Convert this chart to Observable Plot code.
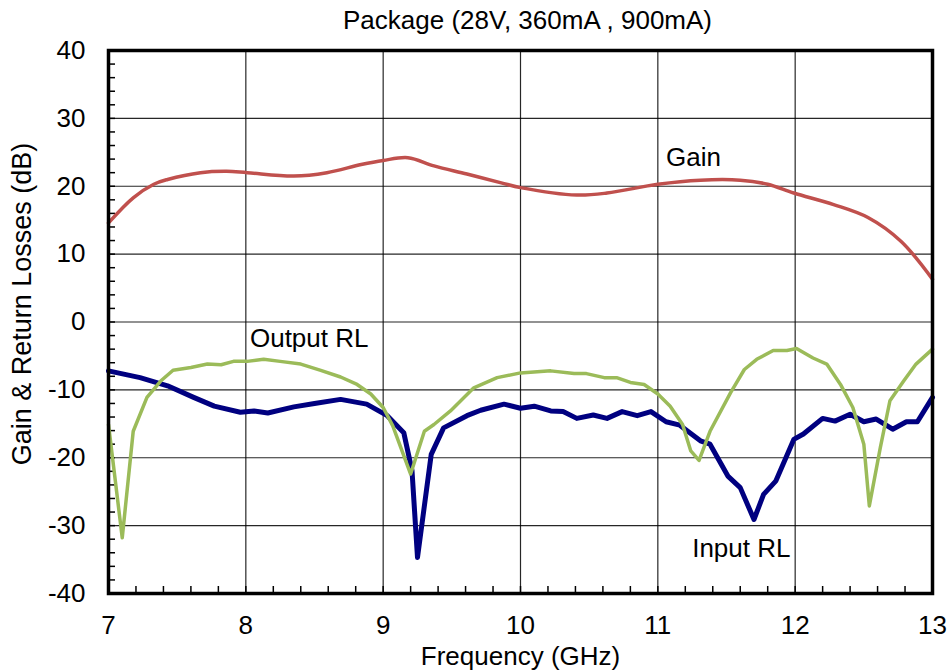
<!DOCTYPE html>
<html><head><meta charset="utf-8">
<script src="https://cdn.jsdelivr.net/npm/d3@7"></script>
<script src="https://cdn.jsdelivr.net/npm/@observablehq/plot@0.6"></script>
<style>body{margin:0;background:#fff}</style>
</head><body><div id="chart"></div>
<script>
const titleText = "Package (28V, 360mA , 900mA)";
const xLabel = "Frequency (GHz)";
const yLabel = "Gain & Return Losses (dB)";

const xTicks = [7, 8, 9, 10, 11, 12, 13];
const yTicks = [-40, -30, -20, -10, 0, 10, 20, 30, 40];
const xMinor = d3.range(7, 13.001, 0.2);
const yMinor = d3.range(-40, 40.001, 2);

const gainFreq = [7.0,7.18,7.33,7.43,7.67,7.86,8.01,8.35,8.59,8.84,9.0,9.18,9.37,9.61,9.86,10.0,10.41,10.63,11.0,11.31,11.6,11.8,11.99,12.28,12.53,12.77,13.0];
const gainDb   = [14.6,18.3,20.3,21.0,22.0,22.2,22.0,21.5,22.0,23.2,23.8,24.2,23.0,21.8,20.5,19.8,18.7,19.0,20.3,20.9,20.9,20.3,19.0,17.3,15.4,11.9,6.3];

const inFreq = [7.0,7.23,7.43,7.62,7.77,7.96,8.06,8.16,8.35,8.5,8.69,8.88,9.03,9.15,9.21,9.25,9.35,9.44,9.61,9.71,9.88,10.0,10.1,10.22,10.31,10.41,10.53,10.63,10.74,10.85,10.95,11.06,11.16,11.31,11.38,11.51,11.6,11.7,11.77,11.86,11.99,12.06,12.2,12.29,12.4,12.5,12.59,12.71,12.81,12.89,13.0];
const inDb   = [-7.2,-8.2,-9.4,-11.1,-12.4,-13.3,-13.1,-13.4,-12.5,-12.0,-11.4,-12.1,-13.8,-16.3,-21.9,-34.7,-19.5,-15.6,-13.8,-13.0,-12.1,-12.7,-12.4,-13.1,-13.2,-14.2,-13.7,-14.2,-13.2,-13.8,-13.2,-14.7,-15.2,-17.5,-18.0,-22.7,-24.4,-29.1,-25.4,-23.4,-17.3,-16.5,-14.2,-14.6,-13.6,-14.7,-14.3,-15.8,-14.7,-14.7,-11.1];

const outFreq = [7.0,7.1,7.18,7.28,7.38,7.47,7.6,7.72,7.82,7.91,8.01,8.13,8.25,8.4,8.54,8.69,8.81,8.91,9.0,9.07,9.2,9.3,9.37,9.49,9.66,9.83,10.0,10.22,10.39,10.48,10.61,10.7,10.8,10.9,11.0,11.09,11.18,11.24,11.3,11.38,11.53,11.63,11.72,11.84,11.94,12.01,12.13,12.23,12.33,12.42,12.5,12.54,12.62,12.69,12.79,12.88,13.0];
const outDb   = [-15.1,-31.8,-16.1,-11.1,-8.7,-7.1,-6.7,-6.2,-6.3,-5.8,-5.8,-5.5,-5.8,-6.2,-7.1,-8.1,-9.2,-10.6,-12.6,-15.3,-22.4,-16.1,-15.1,-13.1,-9.7,-8.2,-7.5,-7.2,-7.6,-7.6,-8.2,-8.2,-8.9,-9.2,-10.6,-12.4,-15.1,-19.0,-20.4,-16.1,-10.4,-7.0,-5.5,-4.2,-4.2,-3.9,-5.3,-6.2,-9.2,-12.6,-18.0,-27.1,-18.5,-11.6,-8.7,-6.2,-4.0];

const labelText = ["Gain", "Output RL", "Input RL"];
const labelFreq = [11.06, 8.03, 11.25];
const labelDb   = [24.2, -2.5, -33.4];

const gain = gainFreq.map((f, i) => ({f, v: gainDb[i]}));
const inputRL = inFreq.map((f, i) => ({f, v: inDb[i]}));
const outputRL = outFreq.map((f, i) => ({f, v: outDb[i]}));
const labels = labelText.map((t, i) => ({t, f: labelFreq[i], v: labelDb[i]}));

const chart = Plot.plot({
  width: 950, height: 670,
  marginLeft: 108, marginRight: 18, marginTop: 50, marginBottom: 77,
  style: {fontFamily: "'Liberation Sans', Arial, sans-serif", fontSize: "26px", background: "#fff", color: "#000", overflow: "visible"},
  x: {domain: [7, 13]},
  y: {domain: [-40, 40]},
  marks: [
    Plot.gridX(xTicks.slice(1, -1), {stroke: "#000", strokeOpacity: 0.85, strokeWidth: 1.2}),
    Plot.gridY(yTicks.slice(1, -1), {stroke: "#000", strokeOpacity: 0.85, strokeWidth: 1.2}),
    Plot.axisX(xMinor, {tickSize: -7, tickFormat: () => "", label: null, strokeWidth: 1.5}),
    Plot.axisY(yMinor, {tickSize: -7, tickFormat: () => "", label: null, strokeWidth: 1.5}),
    Plot.axisX(xTicks, {tickSize: 0, tickPadding: 22, tickFormat: d => String(d), label: null, fontSize: 26}),
    Plot.axisY(yTicks, {tickSize: 0, tickPadding: 23, tickFormat: d => String(d), label: null, fontSize: 26}),
    Plot.line(inputRL, {x: "f", y: "v", stroke: "#000080", strokeWidth: 5, strokeLinejoin: "round"}),
    Plot.line(outputRL, {x: "f", y: "v", stroke: "#9BBB59", strokeWidth: 3.5, strokeLinejoin: "round"}),
    Plot.line(gain, {x: "f", y: "v", curve: "catmull-rom", stroke: "#C0504D", strokeWidth: 3.5}),
    Plot.frame({stroke: "#000", strokeWidth: 3.5}),
    Plot.text(labels, {x: "f", y: "v", text: "t", textAnchor: "start", lineAnchor: "middle", fontSize: 26, fill: "#000"}),
    Plot.text([titleText], {frameAnchor: "top", dx: 7, dy: -30, textAnchor: "middle", lineAnchor: "middle", fontSize: 26, fill: "#000"}),
    Plot.text([xLabel], {frameAnchor: "bottom", dy: 63, textAnchor: "middle", lineAnchor: "middle", fontSize: 26, fill: "#000"}),
    Plot.text([yLabel], {frameAnchor: "left", dx: -86, dy: -18, rotate: -90, textAnchor: "middle", lineAnchor: "middle", fontSize: 27, fill: "#000"})
  ]
});
document.getElementById("chart").appendChild(chart);
</script>
</body></html>
